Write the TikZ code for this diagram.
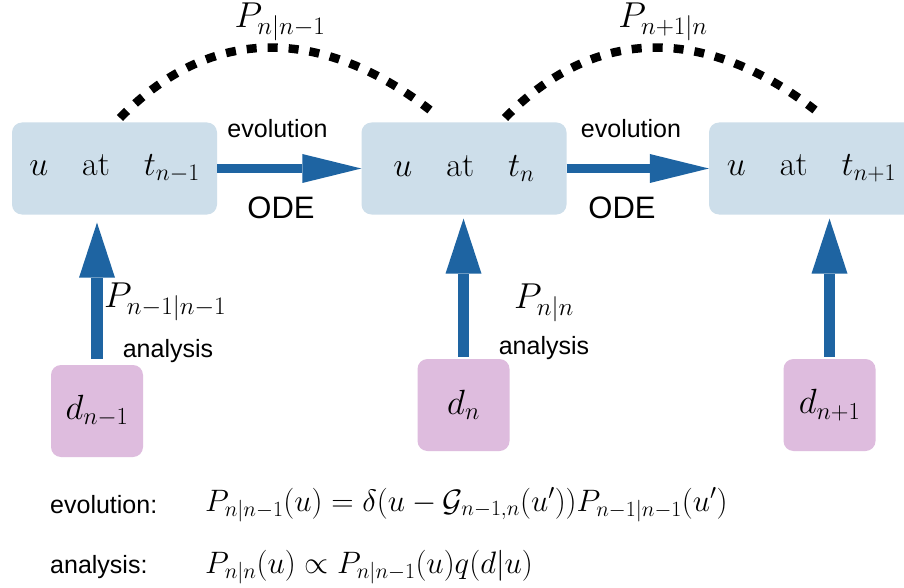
\RequirePackage{fix-cm}
\documentclass[tikz,border=0pt]{standalone}
\usepackage{fontspec}
\setsansfont{Liberation Sans}
\usetikzlibrary{arrows.meta}
\definecolor{boxblue}{RGB}{205,222,234}
\definecolor{arrblue}{RGB}{30,100,162}
\definecolor{boxpink}{RGB}{222,188,222}
\tikzset{
 statebox/.style={fill=boxblue, rounded corners=10pt, minimum width=205pt, minimum height=92pt, inner sep=0pt, font=\fontsize{34}{40}\selectfont},
 databox/.style={fill=boxpink, rounded corners=10pt, minimum width=92pt, minimum height=92pt, inner sep=0pt, font=\fontsize{35}{40}\selectfont},
 harrow/.style={draw=arrblue, line width=8.3pt, -{Triangle[length=59pt,width=29pt,line width=0pt]}},
 varrow/.style={draw=arrblue, line width=11.5pt, -{Triangle[length=55pt,width=36pt,line width=0pt]}},
 prob/.style={font=\fontsize{36}{42}\selectfont, inner sep=0pt},
 lbl/.style={font=\sffamily\fontsize{25}{30}\selectfont, inner sep=0pt},
 odelbl/.style={font=\sffamily\fontsize{31}{36}\selectfont, inner sep=0pt},
 formula/.style={font=\fontsize{31}{36}\selectfont, inner sep=0pt, anchor=west},
 dotarc/.style={line width=8.5pt, dash pattern=on 10pt off 11pt},
}
\begin{document}
\begin{tikzpicture}[x=1pt,y=-1pt]
\clip (0,0) rectangle (904,588);
\fill[white] (0,0) rectangle (904,588);
% state boxes
\node[statebox] (b1) at (114.5,168.5) {\raisebox{-4pt}{$u\quad\mathrm{at}\quad t_{n-1}$}};
\node[statebox] (b2) at (464,168.5) {\raisebox{-4pt}{$u\quad\mathrm{at}\quad t_{n}$}};
\node[statebox] (b3) at (811.5,168.5) {\raisebox{-4pt}{$u\quad\mathrm{at}\quad t_{n+1}$}};
% data boxes
\node[databox] (d1) at (97,411) {$d_{n-1}$};
\node[databox] (d2) at (463.5,405) {$d_{n}$};
\node[databox] (d3) at (829.5,405) {$d_{n+1}$};
% evolution arrows
\draw[harrow] (b1.east) -- (b2.west);
\draw[harrow] (b2.east) -- (b3.west);
\node[lbl] (ev1) at (277.5,129) {evolution};
\node[odelbl] (ode1) at (281,207.5) {ODE};
\node[lbl] (ev2) at (631,129) {evolution};
\node[odelbl] (ode2) at (622,207.5) {ODE};
% analysis arrows
\draw[varrow, shorten <=6pt, shorten >=8pt] (d1.north) -- (d1.north |- b1.south);
\draw[varrow, shorten <=2pt, shorten >=4pt] (d2.north) -- (d2.north |- b2.south);
\draw[varrow, shorten <=2pt, shorten >=4pt] (d3.north) -- (d3.north |- b3.south);
\node[prob, anchor=west] (pa1) at (104,302) {$P_{n-1|n-1}$};
\node[lbl] (an1) at (168,351) {analysis};
\node[prob] (pa2) at (544,303) {$P_{n|n}$};
\node[lbl] (an2) at (544,348) {analysis};
% dotted arcs
\coordinate (a1s) at (120,118);
\coordinate (a1e) at (430,110);
\coordinate (a2s) at (505,118);
\coordinate (a2e) at (815,110);
\draw[dotarc] (a1s) .. controls (218,17) and (332,34) .. (a1e);
\draw[dotarc] (a2s) .. controls (603,17) and (717,34) .. (a2e);
\node[prob] (pf1) at (280,22) {$P_{n|n-1}$};
\node[prob] (pf2) at (663,22) {$P_{n+1|n}$};
% equations
\node[lbl, anchor=west] (el) at (50,505) {evolution:};
\node[formula] (ef) at (205,505) {$P_{n|n-1}(u)=\delta(u-\mathcal{G}_{n-1,n}(u'))P_{n-1|n-1}(u')$};
\node[lbl, anchor=west] (al) at (50,567) {analysis:};
\node[formula] (af) at (205,567) {$P_{n|n}(u)\propto P_{n|n-1}(u)q(d|u)$};
\end{tikzpicture}
\end{document}
